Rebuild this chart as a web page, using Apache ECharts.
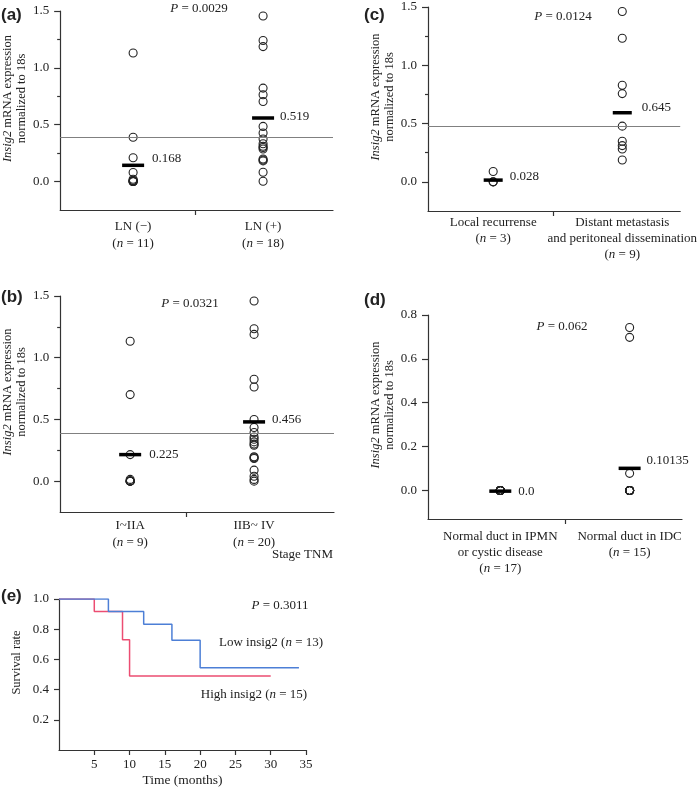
<!DOCTYPE html>
<html><head><meta charset="utf-8">
<script src="https://cdn.jsdelivr.net/npm/echarts@6/dist/echarts.min.js"></script>
<style>html,body{margin:0;padding:0;background:#fff}#c{width:700px;height:788px}</style>
</head><body><div id="c"></div>
<script>
// ---------- DATA ----------
// (a) lymph node status
const aCategories = ['LN (−)', 'LN (+)'];
const aCounts = [11, 18];
const aNeg = [1.13, 0.39, 0.21, 0.08, 0.02, 0.01, 0.01, 0.0, 0.0, 0.0, 0.0];
const aPos = [1.456, 1.24, 1.187, 0.822, 0.763, 0.704, 0.485, 0.427, 0.375, 0.333, 0.31, 0.3, 0.287, 0.199, 0.19, 0.182, 0.082, 0.003];
const aMeanBars = [0.143, 0.559];
const aMeanLabels = ['0.168', '0.519'];
const aCutoff = 0.385;
const aP = '0.0029';

// (b) TNM stage
const bCategories = ['I~IIA', 'IIB~ IV'];
const bCounts = [9, 20];
const bEarly = [1.133, 0.701, 0.215, 0.014, 0.0, 0.0, 0.0, 0.0, 0.0];
const bLate = [1.459, 1.235, 1.189, 0.825, 0.763, 0.499, 0.434, 0.394, 0.358, 0.34, 0.318, 0.3, 0.291, 0.197, 0.19, 0.184, 0.089, 0.04, 0.014, 0.0];
const bMeanBars = [0.215, 0.48];
const bMeanLabels = ['0.225', '0.456'];
const bCutoff = 0.385;
const bP = '0.0321';

// (c) recurrence type
const cCategories = ['Local recurrense', 'Distant metastasis\nand peritoneal dissemination'];
const cCounts = [3, 9];
const cLocal = [0.089, 0.0, 0.0];
const cDistant = [1.462, 1.232, 0.829, 0.757, 0.478, 0.348, 0.311, 0.282, 0.187];
const cMeanBars = [0.015, 0.593];
const cMeanLabels = ['0.028', '0.645'];
const cCutoff = 0.485;
const cP = '0.0124';

// (d) normal ducts
const dCategories = ['Normal duct in IPMN\nor cystic disease', 'Normal duct in IDC'];
const dCounts = [17, 15];
const dIPMN = [0.0, 0.0, 0.0, 0.0, 0.0, 0.0, 0.0, 0.0, 0.0, 0.0, 0.0, 0.0, 0.0, 0.0, 0.0, 0.0, 0.0];
const dIDC = [0.743, 0.698, 0.078, 0.0, 0.0, 0.0, 0.0, 0.0, 0.0, 0.0, 0.0, 0.0, 0.0, 0.0, 0.0];
const dMeanBars = [-0.003, 0.101];
const dMeanLabels = ['0.0', '0.10135'];
const dP = '0.062';

// (e) survival
const eLowTimes = [0, 7, 12, 16, 20, 34];
const eLowSurv = [1.0, 0.917, 0.833, 0.727, 0.545, 0.545];
const eHighTimes = [0, 5, 9, 10, 30];
const eHighSurv = [1.0, 0.917, 0.73, 0.49, 0.49];
const eLowName = 'Low insig2';
const eHighName = 'High insig2';
const eLowN = 13, eHighN = 15;
const eP = '0.3011';
const eXTicks = [5, 10, 15, 20, 25, 30, 35];
const eYTicks = [0.2, 0.4, 0.6, 0.8, 1.0];

const dotYTicks = [0, 0.5, 1.0, 1.5];
const dotYMinor = [0.25, 0.75, 1.25];
const dYTicks = [0, 0.2, 0.4, 0.6, 0.8];

// ---------- STYLE / LAYOUT ----------
const FONT = '"Liberation Serif","Times New Roman",serif';
const SANS = '"Liberation Sans",Arial,sans-serif';
const TXT = '#222';
const AX = '#333';

const panels = [
  { cats: aCategories, counts: aCounts, groups: [aNeg, aPos], bars: aMeanBars, barLabels: aMeanLabels, cutoff: aCutoff,
    grid: { left: 60, top: 11, width: 273, height: 199 }, ymin: -0.25, ymax: 1.5, xmin: -0.5615, xmax: 1.538, tick: 0.477,
    yTicks: dotYTicks, yMinor: dotYMinor, labelMargin: 8, lineH: 17, offsets: [[3, -7], [1, -1]], barW: 22 },
  { cats: bCategories, counts: bCounts, groups: [bEarly, bLate], bars: bMeanBars, barLabels: bMeanLabels, cutoff: bCutoff,
    grid: { left: 60, top: 296, width: 274, height: 216 }, ymin: -0.25, ymax: 1.5, xmin: -0.565, xmax: 1.645, tick: 0.452,
    yTicks: dotYTicks, yMinor: dotYMinor, labelMargin: 5, lineH: 17, offsets: [[3, 0], [2, -2]], barW: 22 },
  { cats: cCategories, counts: cCounts, groups: [cLocal, cDistant], bars: cMeanBars, barLabels: cMeanLabels, cutoff: cCutoff,
    grid: { left: 428, top: 7, width: 254, height: 204 }, ymin: -0.25, ymax: 1.5, xmin: -0.505, xmax: 1.449, tick: 0.469,
    yTicks: dotYTicks, yMinor: dotYMinor, labelMargin: 4, lineH: 16, offsets: [[2, -4], [5, -5]], barW: 19 },
  { cats: dCategories, counts: dCounts, groups: [dIPMN, dIDC], bars: dMeanBars, barLabels: dMeanLabels, cutoff: null,
    grid: { left: 428, top: 315, width: 254, height: 204 }, ymin: -0.13, ymax: 0.8, xmin: -0.559, xmax: 1.405, tick: 0.5,
    yTicks: dYTicks, yMinor: null, labelMargin: 10, lineH: 16, offsets: [[2, 0], [1, -8]], barW: 22 }
];

const grids = [], xAxes = [], yAxes = [], series = [];
const yName = '{i|Insig2} mRNA expression\nnormalized to 18s';

panels.forEach((p, i) => {
  grids.push(Object.assign({ containLabel: false }, p.grid));
  xAxes.push({
    type: 'value', gridIndex: i, min: p.xmin, max: p.xmax, position: 'bottom',
    axisLine: { show: true, onZero: false, lineStyle: { color: AX, width: 1.2 } },
    axisTick: { show: true, customValues: [p.tick], length: 5, lineStyle: { color: AX, width: 1.2 } },
    axisLabel: {
      customValues: [0, 1], margin: p.labelMargin, color: TXT, fontFamily: FONT, fontSize: 13, lineHeight: p.lineH,
      formatter: v => { const k = Math.round(v); return p.cats[k] + '\n({n|n} = ' + p.counts[k] + ')'; },
      rich: { n: { fontStyle: 'italic', fontFamily: FONT, fontSize: 13, color: TXT, lineHeight: p.lineH } }
    },
    splitLine: { show: false }
  });
  yAxes.push({
    type: 'value', gridIndex: i, min: p.ymin, max: p.ymax, position: 'left',
    axisLine: { show: true, onZero: false, lineStyle: { color: AX, width: 1.2 } },
    axisTick: { show: true, customValues: p.yTicks, length: 6, lineStyle: { color: AX, width: 1.2 } },
    axisLabel: { customValues: p.yTicks, margin: 11, color: TXT, fontFamily: FONT, fontSize: 13, formatter: v => v.toFixed(1) },
    splitLine: { show: false },
    name: yName, nameLocation: 'middle', nameRotate: 90, nameGap: 26,
    nameTextStyle: { fontFamily: FONT, fontSize: 12.5, color: TXT, lineHeight: 14, padding: [0, 0, 0, 24],
      rich: { i: { fontStyle: 'italic', fontFamily: FONT, fontSize: 12.5, color: TXT, lineHeight: 14 } } }
  });
  p.groups.forEach((g, k) => {
    const s = {
      type: 'scatter', xAxisIndex: i, yAxisIndex: i, symbol: 'circle', symbolSize: 8, z: 3,
      itemStyle: { color: 'rgba(0,0,0,0)', borderColor: '#222', borderWidth: 1.1, opacity: 1 },
      data: g.map(v => [k, v]), silent: true
    };
    if (k === 0 && p.cutoff !== null) {
      s.markLine = { silent: true, symbol: ['none', 'none'], label: { show: false },
        lineStyle: { color: '#808080', width: 1, type: 'solid', opacity: 1 }, data: [{ yAxis: p.cutoff }] };
    }
    series.push(s);
  });
  series.push({
    type: 'scatter', xAxisIndex: i, yAxisIndex: i, symbol: 'rect', symbolSize: [p.barW, 3.5], z: 5,
    itemStyle: { color: '#000', opacity: 1 },
    data: p.bars.map((v, k) => ({ value: [k, v], label: { offset: p.offsets[k] } })),
    label: { show: true, position: 'right', distance: 5, color: TXT, fontFamily: FONT, fontSize: 13,
      formatter: prm => p.barLabels[prm.dataIndex] }
  });
});

// minor tick axes for a, b, c
[0, 1, 2].forEach(i => {
  const p = panels[i];
  yAxes.push({
    type: 'value', gridIndex: i, min: p.ymin, max: p.ymax, position: 'left', offset: 0,
    axisLine: { show: false, onZero: false },
    axisTick: { show: true, customValues: p.yMinor, length: 3, lineStyle: { color: AX, width: 1.2 } },
    axisLabel: { show: false }, splitLine: { show: false }
  });
});

// panel e
grids.push({ left: 59, top: 599, width: 247, height: 152 });
xAxes.push({
  type: 'value', gridIndex: 4, min: 0, max: 35, position: 'bottom',
  axisLine: { show: true, onZero: false, lineStyle: { color: AX, width: 1.2 } },
  axisTick: { show: true, customValues: eXTicks, length: 5, lineStyle: { color: AX, width: 1.2 } },
  axisLabel: { customValues: eXTicks, margin: 8, color: TXT, fontFamily: FONT, fontSize: 13 },
  splitLine: { show: false },
  name: 'Time (months)', nameLocation: 'middle', nameGap: 23,
  nameTextStyle: { fontFamily: FONT, fontSize: 13.5, color: TXT }
});
const eYIndex = yAxes.length;
yAxes.push({
  type: 'value', gridIndex: 4, min: 0, max: 1, position: 'left',
  axisLine: { show: true, onZero: false, lineStyle: { color: AX, width: 1.2 } },
  axisTick: { show: true, customValues: eYTicks, length: 5, lineStyle: { color: AX, width: 1.2 } },
  axisLabel: { customValues: eYTicks, margin: 10, color: TXT, fontFamily: FONT, fontSize: 13, formatter: v => v.toFixed(1) },
  splitLine: { show: false },
  name: 'Survival rate', nameLocation: 'middle', nameRotate: 90, nameGap: 36,
  nameTextStyle: { fontFamily: FONT, fontSize: 12.5, color: TXT, padding: [0, 0, 0, 24] }
});
series.push({
  type: 'line', name: eHighName, xAxisIndex: 4, yAxisIndex: eYIndex, step: 'end', showSymbol: false, symbol: 'none',
  lineStyle: { color: '#ec4d72', width: 1.5 }, data: eHighTimes.map((t, k) => [t, eHighSurv[k]]), z: 2, silent: true
});
series.push({
  type: 'line', name: eLowName, xAxisIndex: 4, yAxisIndex: eYIndex, step: 'end', showSymbol: false, symbol: 'none',
  lineStyle: { color: '#4d7fd6', width: 1.5 }, data: eLowTimes.map((t, k) => [t, eLowSurv[k]]), z: 3, silent: true
});

// text annotations
const rich13 = { i: { font: 'italic 13px ' + FONT, fill: TXT } };
function txt(x, y, text, align, font, rich) {
  return { type: 'text', x: x, y: y, silent: true,
    style: { text: text, font: font || ('13px ' + FONT), fill: TXT, align: align || 'center', textAlign: align || 'center',
      verticalAlign: 'middle', textVerticalAlign: 'middle', rich: rich || rich13 } };
}
const PF = 'bold 17px ' + SANS;
const graphics = [
  txt(1, 15, '(a)', 'left', PF, {}), txt(1, 297, '(b)', 'left', PF, {}),
  txt(364, 15, '(c)', 'left', PF, {}), txt(364, 300, '(d)', 'left', PF, {}),
  txt(1, 596, '(e)', 'left', PF, {}),
  txt(199, 9, '{i|P} = ' + aP), txt(190, 304, '{i|P} = ' + bP),
  txt(563, 17, '{i|P} = ' + cP), txt(562, 327, '{i|P} = ' + dP),
  txt(280, 606, '{i|P} = ' + eP),
  txt(333, 555, 'Stage TNM', 'right'),
  txt(271, 643, eLowName + ' ({i|n} = ' + eLowN + ')'),
  txt(254, 695, eHighName + ' ({i|n} = ' + eHighN + ')')
];

const chart = echarts.init(document.getElementById('c'), null, { renderer: 'canvas' });
chart.setOption({
  animation: false,
  backgroundColor: '#fff',
  grid: grids, xAxis: xAxes, yAxis: yAxes, series: series,
  graphic: { elements: graphics }
});
</script></body></html>
